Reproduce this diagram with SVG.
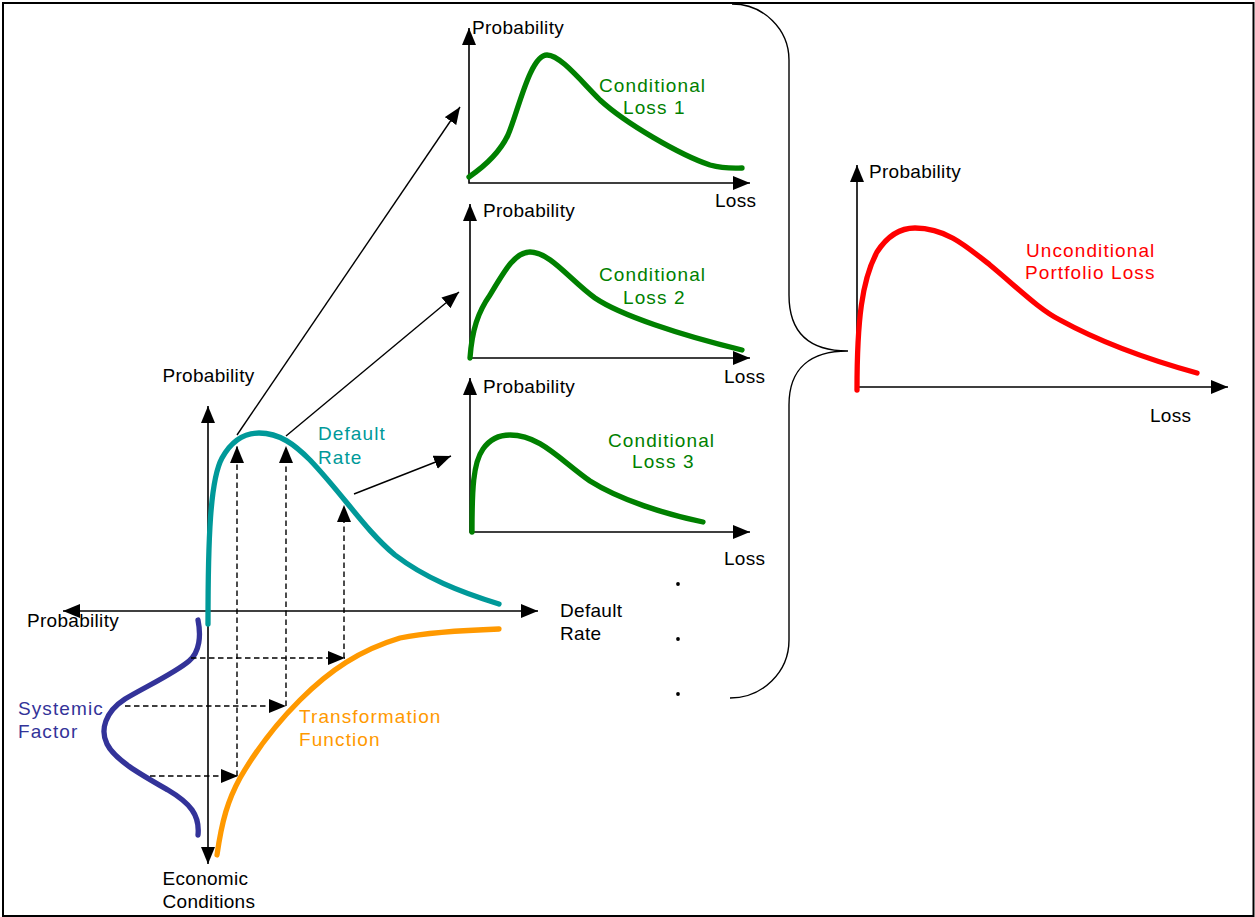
<svg xmlns="http://www.w3.org/2000/svg" width="1255" height="917" viewBox="0 0 1255 917">
<style>
text{font-family:"Liberation Sans",Arial,sans-serif;font-size:19px}
.k{fill:#000;letter-spacing:0.3px}
.c{letter-spacing:1.1px}
.ax{fill:none;stroke:#000;stroke-width:1.6}
.ln{fill:none;stroke:#000;stroke-width:1.4}
.dl{fill:none;stroke:#000;stroke-width:1.4;stroke-dasharray:5.5 3.5}
.cv{fill:none;stroke-width:5.3;stroke-linecap:round;stroke-linejoin:round}
.g{stroke:#008000}.gt{fill:#008000}
</style>
<defs>
<marker id="ah" markerUnits="userSpaceOnUse" markerWidth="18" markerHeight="15" refX="17" refY="7" orient="auto-start-reverse">
<path d="M0,0 L17,7 L0,14 z" fill="#000"/>
</marker>
</defs>
<rect x="3" y="3" width="1250.5" height="913" fill="#fff" stroke="#000" stroke-width="2"/>

<g id="brace">
<path class="ln" d="M732,4 A57,56 0 0 1 789,60 L789,295 C789,335 812,351 848,351 C812,351 789,367 789,405 L789,640 A59,58 0 0 1 730,698"/>
</g>

<g id="main-axes">
<path class="ax" d="M208,406 L208,864" marker-start="url(#ah)" marker-end="url(#ah)"/>
<path class="ax" d="M63,611 L538,611" marker-start="url(#ah)" marker-end="url(#ah)"/>
<text class="k" x="162.5" y="382">Probability</text>
<text class="k" x="27" y="627">Probability</text>
<text class="k" x="560" y="617">Default</text>
<text class="k" x="560" y="640">Rate</text>
<text class="k" x="162.5" y="885">Economic</text>
<text class="k" x="162.5" y="908">Conditions</text>
</g>

<g id="default-rate">
<path class="cv" stroke="#009999" d="M208,624 C208,540 210,480 222,458 C232,440 244,433 259,433 C280,433 295,445 310,460 C345,497 365,530 395,555 C425,578 460,592 499,604"/>
<text class="c" fill="#009999" x="318" y="440">Default</text>
<text class="c" fill="#009999" x="318" y="464">Rate</text>
</g>

<g id="systemic-factor">
<path class="cv" stroke="#333399" d="M198,620 C201,635 200,652 189,661 C175,673 145,687 125,699 C105,712 100,730 107,744 C115,760 140,774 168,790 C190,803 200,815 198,835"/>
<text class="c" fill="#333399" x="18" y="715">Systemic</text>
<text class="c" fill="#333399" x="18" y="738">Factor</text>
</g>

<g id="transformation-function">
<path class="cv" stroke="#FF9900" d="M217,855 C222,820 228,800 240,778 C255,752 275,725 300,700 C330,670 360,650 400,638 C430,632 470,630 499,629"/>
<text class="c" fill="#FF9900" x="299" y="722.5">Transformation</text>
<text class="c" fill="#FF9900" x="299" y="746">Function</text>
</g>

<g id="conditional-loss-1">
<path class="ax" d="M469,28 L469,183 L750,183" marker-start="url(#ah)" marker-end="url(#ah)"/>
<path class="cv g" d="M469,177 C485,166 500,152 508,135 C518,112 530,55 547,55 C560,55 580,80 600,100 C625,123 680,155 710,165 C725,169 735,168 742,168"/>
<text class="k" x="472" y="34">Probability</text>
<text class="k" x="715" y="207">Loss</text>
<text class="c gt" x="599" y="92">Conditional</text>
<text class="c gt" x="623" y="114">Loss 1</text>
</g>

<g id="conditional-loss-2">
<path class="ax" d="M470,204 L470,358 L750,358" marker-start="url(#ah)" marker-end="url(#ah)"/>
<path class="cv g" d="M470,358 C472,330 478,312 490,295 C505,270 515,252 530,252 C550,252 570,280 595,298 C620,315 680,335 742,350"/>
<text class="k" x="483" y="217">Probability</text>
<text class="k" x="724" y="383">Loss</text>
<text class="c gt" x="599" y="281">Conditional</text>
<text class="c gt" x="623" y="304">Loss 2</text>
</g>

<g id="conditional-loss-3">
<path class="ax" d="M470,378 L470,532 L750,532" marker-start="url(#ah)" marker-end="url(#ah)"/>
<path class="cv g" d="M472,532 C472,490 473,463 483,449 C490,439 500,435 510,435 C540,435 560,460 590,481 C620,500 665,514 703,522"/>
<text class="k" x="483" y="393">Probability</text>
<text class="k" x="724" y="565">Loss</text>
<text class="c gt" x="608" y="447">Conditional</text>
<text class="c gt" x="632" y="468">Loss 3</text>
</g>

<g id="ellipsis">
<circle cx="678" cy="584" r="1.9" fill="#000"/>
<circle cx="678" cy="639" r="1.9" fill="#000"/>
<circle cx="678" cy="694" r="1.9" fill="#000"/>
</g>

<g id="unconditional-portfolio-loss">
<path class="ax" d="M857,165 L857,387 L1228,387" marker-start="url(#ah)" marker-end="url(#ah)"/>
<path class="cv" stroke="#FF0000" d="M857,390 C857,320 862,280 877,252 C888,235 900,228 915,228 C945,228 965,245 990,265 C1020,290 1040,310 1060,320 C1100,342 1150,360 1197,373"/>
<text class="k" x="869" y="178">Probability</text>
<text class="k" x="1150" y="422">Loss</text>
<text class="c" fill="#FF0000" x="1026" y="257">Unconditional</text>
<text class="c" fill="#FF0000" x="1025" y="279">Portfolio Loss</text>
</g>

<g id="connectors">
<path class="ln" d="M237,435 L460,107" marker-end="url(#ah)"/>
<path class="ln" d="M286,436 L459,292" marker-end="url(#ah)"/>
<path class="ln" d="M354,494 L451,456" marker-end="url(#ah)"/>
<path class="dl" d="M191,658 L345,658" marker-end="url(#ah)"/>
<path class="dl" d="M125,706 L286,706" marker-end="url(#ah)"/>
<path class="dl" d="M150,776 L238,776" marker-end="url(#ah)"/>
<path class="dl" d="M237,776 L237,446" marker-end="url(#ah)"/>
<path class="dl" d="M286,706 L286,446" marker-end="url(#ah)"/>
<path class="dl" d="M344,658 L344,505" marker-end="url(#ah)"/>
</g>
</svg>
